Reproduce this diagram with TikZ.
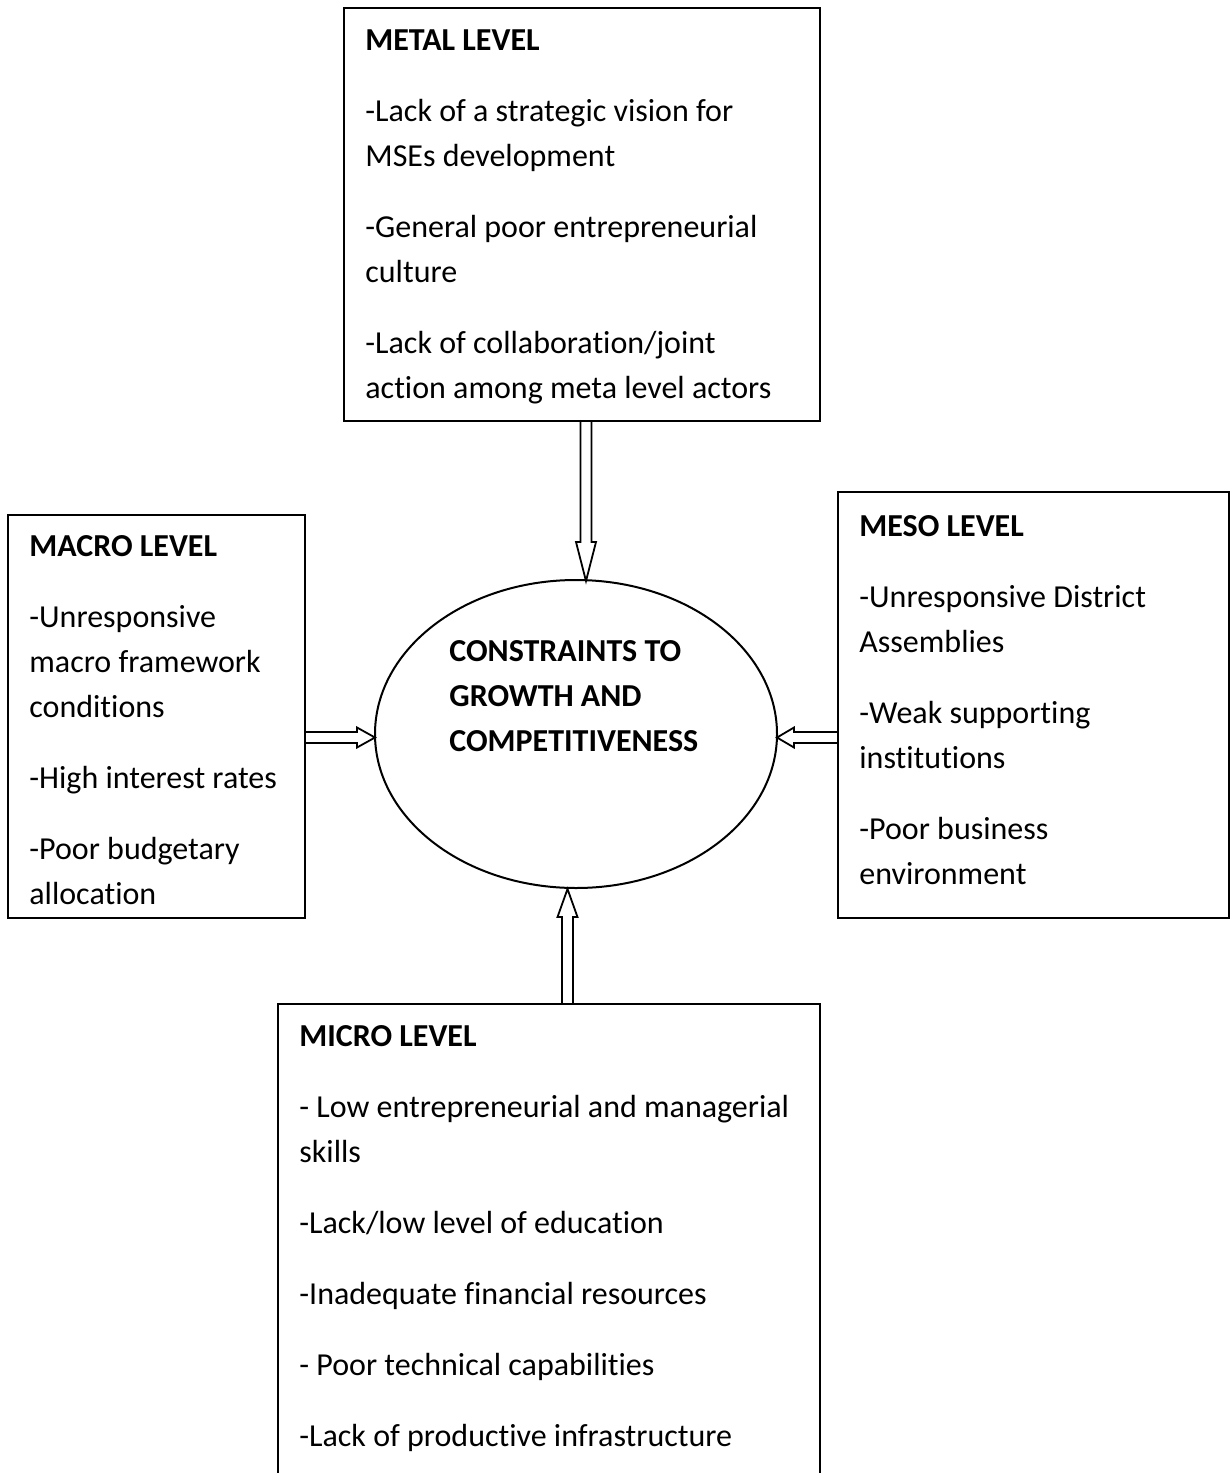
\documentclass[tikz,border=0pt]{standalone}
\usepackage{fontspec}
\setmainfont{Carlito}[Ligatures=NoCommon]
\usetikzlibrary{calc,shapes.geometric}

% shaft and head half-widths of the hollow block arrows
\newcommand\shaftw{2.75pt}
\newcommand\headw{5pt}
% hollow block arrow: #1 start, #2 tip, #3 head length
\newcommand\hollowarrow[3]{%
  \path ($(#2)!#3!(#1)$) coordinate (hb);
  \draw[harrow] ($(#1)!\shaftw!90:(#2)$) -- ($(hb)!\shaftw!90:(#2)$)
    -- ($(hb)!\headw!90:(#2)$) -- (#2) -- ($(hb)!\headw!-90:(#2)$)
    -- ($(hb)!\shaftw!-90:(#2)$) -- ($(#1)!\shaftw!-90:(#2)$);}

\begin{document}
\begin{tikzpicture}[x=0.5pt,y=-0.5pt,
  levelbox/.style={draw, line width=1pt, inner sep=0pt, fill=white},
  leveltext/.style={inner sep=0pt, anchor=base west, align=flush left,
    font=\fontsize{16pt}{22.5pt}\selectfont},
  harrow/.style={draw, line width=0.9pt, line join=miter},
]
\useasboundingbox (0,0) rectangle (1230,1473);
\fill[white] (0,0) rectangle (1230,1473);
\begin{scope}
\clip (0,0) rectangle (1230,1473);

% the four level boxes
\node[levelbox, minimum width=238pt, minimum height=206.5pt] (metal) at (582,214.5) {};
\node[levelbox, minimum width=148.5pt, minimum height=201.5pt] (macro) at (156.5,716.5) {};
\node[levelbox, minimum width=195.5pt, minimum height=213pt] (meso) at (1033.5,705) {};
\node[levelbox, minimum width=271pt, minimum height=243pt] (micro) at (549,1247) {};

% central ellipse
\node[draw, ellipse, line width=1pt, inner sep=0pt,
  minimum width=201pt, minimum height=154pt] (core) at (576,734) {};

% box texts
\node[leveltext, text width=215pt] (metaltxt) at (365,50) {%
  \textbf{METAL LEVEL}\\[13pt]
  -Lack of a strategic vision for\\
  MSEs development\\[13pt]
  -General poor entrepreneurial\\
  culture\\[13pt]
  -Lack of collaboration/joint\\
  action among meta level actors};
\node[leveltext, text width=140pt] (macrotxt) at (29,556) {%
  \textbf{MACRO LEVEL}\\[13pt]
  -Unresponsive\\
  macro framework\\
  conditions\\[13pt]
  -High interest rates\\[13pt]
  -Poor budgetary\\
  allocation};
\node[leveltext, text width=180pt] (mesotxt) at (859,536) {%
  \textbf{MESO LEVEL}\\[13pt]
  -Unresponsive District\\
  Assemblies\\[13pt]
  -Weak supporting\\
  institutions\\[13pt]
  -Poor business\\
  environment};
\node[leveltext, text width=255pt] (microtxt) at (299,1046) {%
  \textbf{MICRO LEVEL}\\[13pt]
  - Low entrepreneurial and managerial\\
  skills\\[13pt]
  -Lack/low level of education\\[13pt]
  -Inadequate financial resources\\[13pt]
  - Poor technical capabilities\\[13pt]
  -Lack of productive infrastructure};
\node[leveltext, text width=160pt] (coretxt) at (449,661) {%
  \textbf{CONSTRAINTS TO}\\
  \textbf{GROWTH AND}\\
  \textbf{COMPETITIVENESS}};

% arrow end points
\coordinate (a1) at ([xshift=2pt]metal.south);
\coordinate (b1) at ([xshift=5pt,yshift=-1pt]core.north);
\coordinate (a2) at ([yshift=-10.5pt]macro.east);
\coordinate (b2) at ([xshift=0.5pt,yshift=-1.75pt]core.west);
\coordinate (a3) at ([yshift=-16.25pt]meso.west);
\coordinate (b3) at ([xshift=-0.5pt,yshift=-1.75pt]core.east);
\coordinate (a4) at ([xshift=9.25pt]micro.north);
\coordinate (b4) at ([xshift=-4.25pt]core.south);

\hollowarrow{a1}{b1}{19.5pt}
\hollowarrow{a2}{b2}{9pt}
\hollowarrow{a3}{b3}{8.5pt}
\hollowarrow{a4}{b4}{14pt}
\end{scope}
\end{tikzpicture}
\end{document}
